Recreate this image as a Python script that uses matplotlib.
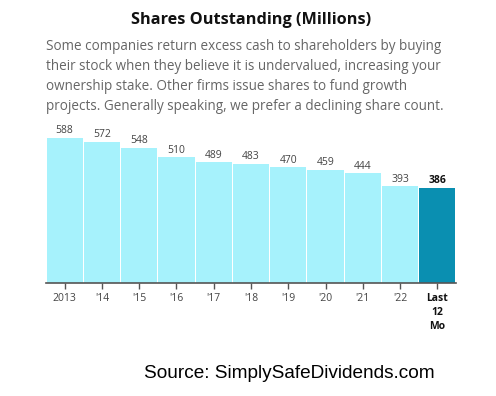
import matplotlib
matplotlib.use("Agg")
import matplotlib.pyplot as plt

# shares outstanding, millions
labels = ["2013", "'14", "'15", "'16", "'17", "'18", "'19", "'20", "'21", "'22", "Last\n12\nMo"]
shares = [588, 572, 548, 510, 489, 483, 470, 459, 444, 393, 386]

light = "#a6f2fc"
dark = "#0a8fb1"

fig = plt.figure(figsize=(4.96, 3.96), dpi=100)
ax = fig.add_axes([46/496, 1 - 283/396, 410/496, 153/396])

x = list(range(len(shares)))
cols = [light]*(len(shares)-1) + [dark]
ax.bar(x, shares, width=0.97, color=cols, edgecolor="none")

for i, v in enumerate(shares):
  last = (i == len(shares)-1)
  ax.text(i, v + 6, str(v), ha="center", va="bottom", fontsize=7.5,
          family="Open Sans", color="#111" if last else "#444",
          fontweight="bold" if last else "normal")

ax.set_xlim(-0.5, len(shares)-0.5)
ax.set_ylim(0, 620)
ax.set_xticks(x)
ax.set_xticklabels(labels, family="Open Sans", fontsize=7.5, color="#444", linespacing=1.4)
ax.get_xticklabels()[-1].set_fontweight("bold")
ax.get_xticklabels()[-1].set_color("#111")
ax.tick_params(axis="x", length=4, width=1, color="#555", pad=3)
ax.set_yticks([])
for s in ["left", "right", "top"]:
  ax.spines[s].set_visible(False)
ax.spines["bottom"].set_color("#555")
ax.spines["bottom"].set_linewidth(1.2)

fig.text(251/496, 1 - 20/396, "Shares Outstanding (Millions)", ha="center", va="center",
         family="Open Sans", fontweight="bold", fontsize=11.7, color="#111")
sub = ("Some companies return excess cash to shareholders by buying\n"
       "their stock when they believe it is undervalued, increasing your\n"
       "ownership stake. Other firms issue shares to fund growth\n"
       "projects. Generally speaking, we prefer a declining share count.")
fig.text(46/496, 1 - 39.5/396, sub, ha="left", va="top", family="Open Sans",
         fontsize=9.75, color="#666", linespacing=1.45)

fig.text(289/496, 1 - 373/396, "Source: SimplySafeDividends.com", ha="center", va="center",
         family="Liberation Sans", fontsize=13.7, color="black")

fig.savefig("out.png", dpi=100)
